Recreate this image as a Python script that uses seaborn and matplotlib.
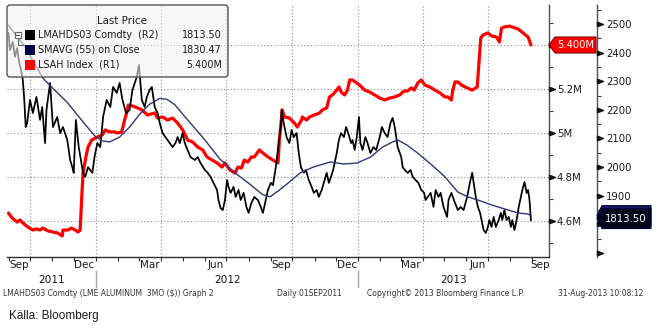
import matplotlib
matplotlib.use("Agg")
import matplotlib.pyplot as plt
import matplotlib.dates as mdates
from matplotlib.patches import Polygon, FancyBboxPatch, Rectangle
import pandas as pd
import seaborn as sns

sns.set_theme(style="white")
plt.rcParams["font.family"] = ["DejaVu Sans"]

# ---------------------------------------------------------------- data
# LME aluminium 3-month price (USD/t), right-hand scale R2
lme_dates = [
    "2011-09-01", "2011-09-03", "2011-09-07", "2011-09-10", "2011-09-13", "2011-09-16", "2011-09-18",
    "2011-09-21", "2011-09-23", "2011-09-25", "2011-09-27", "2011-10-01", "2011-10-05", "2011-10-10",
    "2011-10-15", "2011-10-18", "2011-10-22", "2011-10-24", "2011-10-29", "2011-11-02", "2011-11-08",
    "2011-11-12", "2011-11-16", "2011-11-22", "2011-11-26", "2011-11-29", "2011-12-01", "2011-12-04",
    "2011-12-08", "2011-12-11", "2011-12-14", "2011-12-17", "2011-12-21", "2011-12-27", "2011-12-30",
    "2012-01-03", "2012-01-07", "2012-01-11", "2012-01-16", "2012-01-21", "2012-01-25", "2012-01-30",
    "2012-02-03", "2012-02-07", "2012-02-12", "2012-02-17", "2012-02-21", "2012-02-27", "2012-03-01",
    "2012-03-05", "2012-03-09", "2012-03-12", "2012-03-16", "2012-03-19", "2012-03-23", "2012-03-27",
    "2012-03-30", "2012-04-03", "2012-04-07", "2012-04-13", "2012-04-17", "2012-04-21", "2012-04-24",
    "2012-04-27", "2012-05-01", "2012-05-04", "2012-05-08", "2012-05-12", "2012-05-18", "2012-05-22",
    "2012-05-26", "2012-06-01", "2012-06-05", "2012-06-09", "2012-06-13", "2012-06-18", "2012-06-20",
    "2012-06-23", "2012-06-26", "2012-06-29", "2012-07-02", "2012-07-04", "2012-07-07", "2012-07-11",
    "2012-07-14", "2012-07-18", "2012-07-21", "2012-07-25", "2012-07-29", "2012-08-01", "2012-08-05",
    "2012-08-09", "2012-08-14", "2012-08-18", "2012-08-21", "2012-08-24", "2012-08-28", "2012-09-01",
    "2012-09-04", "2012-09-08", "2012-09-12", "2012-09-15", "2012-09-16", "2012-09-19", "2012-09-23",
    "2012-09-27", "2012-09-30", "2012-10-03", "2012-10-07", "2012-10-10", "2012-10-13", "2012-10-17",
    "2012-10-20", "2012-10-24", "2012-10-28", "2012-10-31", "2012-11-04", "2012-11-07", "2012-11-11",
    "2012-11-15", "2012-11-18", "2012-11-21", "2012-11-24", "2012-11-27", "2012-11-30", "2012-12-02",
    "2012-12-05", "2012-12-08", "2012-12-12", "2012-12-15", "2012-12-18", "2012-12-22", "2012-12-24",
    "2012-12-27", "2012-12-30", "2013-01-02", "2013-01-04", "2013-01-07", "2013-01-11", "2013-01-14",
    "2013-01-18", "2013-01-22", "2013-01-26", "2013-01-31", "2013-02-03", "2013-02-07", "2013-02-11",
    "2013-02-15", "2013-02-18", "2013-02-21", "2013-02-25", "2013-03-02", "2013-03-04", "2013-03-07",
    "2013-03-11", "2013-03-15", "2013-03-18", "2013-03-22", "2013-03-26", "2013-03-30", "2013-04-03",
    "2013-04-05", "2013-04-08", "2013-04-12", "2013-04-16", "2013-04-19", "2013-04-23", "2013-04-26",
    "2013-04-30", "2013-05-05", "2013-05-07", "2013-05-11", "2013-05-16", "2013-05-20", "2013-05-24",
    "2013-05-28", "2013-06-02", "2013-06-06", "2013-06-09", "2013-06-12", "2013-06-14", "2013-06-17",
    "2013-06-20", "2013-06-23", "2013-06-25", "2013-06-28", "2013-07-01", "2013-07-03", "2013-07-06",
    "2013-07-09", "2013-07-12", "2013-07-16", "2013-07-19", "2013-07-21", "2013-07-24", "2013-07-27",
    "2013-07-30", "2013-08-02", "2013-08-04", "2013-08-07", "2013-08-10", "2013-08-13", "2013-08-16",
    "2013-08-18", "2013-08-21", "2013-08-24", "2013-08-26", "2013-08-28", "2013-08-29", "2013-08-30",
]
lme_close = [
    2469, 2409, 2437, 2385, 2416, 2364, 2346,
    2304, 2235, 2140, 2154, 2235, 2189, 2245,
    2165, 2210, 2084, 2200, 2294, 2140, 2175,
    2119, 2140, 2095, 2025, 2000, 1980, 2165,
    2070, 2025, 1980, 1966, 2000, 1980, 2035,
    2084, 2070, 2175, 2235, 2210, 2280, 2259,
    2294, 2235, 2189, 2200, 2270, 2315, 2357,
    2235, 2210, 2245, 2270, 2280, 2210, 2189,
    2154, 2119, 2105, 2084, 2070, 2084, 2105,
    2084, 2119, 2084, 2060, 2035, 2025, 2035,
    2014, 1990, 1980, 1966, 1945, 1920, 1885,
    1857, 1850, 1885, 1955, 1931, 1910, 1931,
    1896, 1920, 1885, 1910, 1861, 1840, 1875,
    1896, 1885, 1861, 1840, 1875, 1920, 1945,
    1937, 2000, 2084, 2140, 2200, 2154, 2105,
    2084, 2130, 2105, 2119, 2049, 2000, 1980,
    1990, 1955, 1931, 1910, 1920, 1896, 1920,
    1955, 1980, 1945, 1966, 1990, 2025, 2049,
    2095, 2119, 2105, 2140, 2119, 2084, 2095,
    2060, 2105, 2175, 2084, 2060, 2105, 2084,
    2049, 2070, 2060, 2105, 2140, 2119, 2105,
    2154, 2172, 2140, 2070, 2035, 2000, 1990,
    1980, 1990, 1966, 1955, 1945, 1920, 1910,
    1885, 1896, 1910, 1861, 1920, 1896, 1910,
    1861, 1826, 1885, 1910, 1875, 1850, 1861,
    1850, 1896, 1948, 1980, 1931, 1896, 1861,
    1840, 1805, 1780, 1770, 1791, 1815, 1791,
    1826, 1791, 1815, 1840, 1815, 1850, 1815,
    1826, 1791, 1815, 1780, 1815, 1861, 1896,
    1920, 1948, 1910, 1920, 1885, 1850, 1813.50,
]

# 55-day simple moving average of the close, same scale
smavg_dates = [
    "2011-09-01", "2011-09-24", "2011-10-19", "2011-10-29", "2011-11-22", "2011-12-14", "2011-12-30",
    "2012-01-09", "2012-01-20", "2012-02-03", "2012-02-17", "2012-03-02", "2012-03-16", "2012-03-30",
    "2012-04-09", "2012-04-20", "2012-05-08", "2012-06-01", "2012-06-22", "2012-07-13", "2012-08-03",
    "2012-08-20", "2012-08-31", "2012-09-13", "2012-09-27", "2012-10-12", "2012-10-30", "2012-11-23",
    "2012-12-11", "2012-12-30", "2013-01-18", "2013-02-04", "2013-02-18", "2013-02-25", "2013-03-10",
    "2013-03-25", "2013-04-14", "2013-05-02", "2013-05-20", "2013-06-03", "2013-06-17", "2013-07-06",
    "2013-07-24", "2013-08-12", "2013-08-26", "2013-08-30",
]
smavg_close = [
    2496, 2420, 2311, 2285, 2226, 2158, 2110,
    2092, 2088, 2105, 2140, 2185, 2220, 2240,
    2237, 2218, 2165, 2095, 2028, 1980, 1940,
    1905, 1896, 1920, 1948, 1980, 2000, 2018,
    2011, 2014, 2035, 2070, 2088, 2095, 2077,
    2049, 2007, 1966, 1913, 1896, 1885, 1868,
    1854, 1840, 1836, 1830.47,
]

# LME aluminium stocks (million tonnes), left-hand scale R1
lsah_dates = [
    "2011-09-01", "2011-09-06", "2011-09-13", "2011-09-17", "2011-09-21", "2011-09-28", "2011-10-05",
    "2011-10-10", "2011-10-15", "2011-10-19", "2011-10-26", "2011-11-02", "2011-11-09", "2011-11-15",
    "2011-11-16", "2011-11-23", "2011-11-28", "2011-12-03", "2011-12-07", "2011-12-10", "2011-12-12",
    "2011-12-14", "2011-12-18", "2011-12-21", "2011-12-26", "2012-01-03", "2012-01-10", "2012-01-14",
    "2012-01-20", "2012-01-27", "2012-01-31", "2012-02-06", "2012-02-10", "2012-02-14", "2012-02-15",
    "2012-02-21", "2012-02-28", "2012-03-05", "2012-03-13", "2012-03-23", "2012-03-27", "2012-04-03",
    "2012-04-10", "2012-04-17", "2012-04-24", "2012-05-01", "2012-05-08", "2012-05-15", "2012-05-22",
    "2012-05-29", "2012-06-04", "2012-06-11", "2012-06-18", "2012-06-25", "2012-06-29", "2012-07-06",
    "2012-07-13", "2012-07-17", "2012-07-22", "2012-07-26", "2012-07-31", "2012-08-05", "2012-08-09",
    "2012-08-16", "2012-08-21", "2012-08-28", "2012-09-04", "2012-09-11", "2012-09-13", "2012-09-16",
    "2012-09-17", "2012-09-20", "2012-09-27", "2012-10-04", "2012-10-08", "2012-10-14", "2012-10-15",
    "2012-10-21", "2012-10-25", "2012-11-01", "2012-11-08", "2012-11-12", "2012-11-18", "2012-11-22",
    "2012-11-26", "2012-12-02", "2012-12-05", "2012-12-09", "2012-12-13", "2012-12-17", "2012-12-20",
    "2012-12-24", "2012-12-30", "2013-01-03", "2013-01-10", "2013-01-17", "2013-01-24", "2013-01-31",
    "2013-02-07", "2013-02-14", "2013-02-21", "2013-02-28", "2013-03-04", "2013-03-07", "2013-03-11",
    "2013-03-16", "2013-03-20", "2013-03-25", "2013-03-30", "2013-04-04", "2013-04-11", "2013-04-18",
    "2013-04-25", "2013-05-02", "2013-05-06", "2013-05-11", "2013-05-13", "2013-05-16", "2013-05-20",
    "2013-05-25", "2013-06-02", "2013-06-09", "2013-06-16", "2013-06-18", "2013-06-21", "2013-06-24",
    "2013-07-01", "2013-07-06", "2013-07-13", "2013-07-17", "2013-07-20", "2013-07-24", "2013-07-31",
    "2013-08-08", "2013-08-12", "2013-08-19", "2013-08-26", "2013-08-30",
]
lsah_mt = [
    4.636, 4.614, 4.595, 4.605, 4.591, 4.573, 4.559,
    4.564, 4.559, 4.568, 4.555, 4.550, 4.545, 4.532,
    4.559, 4.559, 4.568, 4.559, 4.550, 4.559, 4.695,
    4.818, 4.891, 4.936, 4.968, 4.982, 4.991, 5.014,
    5.005, 5.005, 5.000, 5.005, 5.059, 5.105, 5.127,
    5.123, 5.114, 5.105, 5.082, 5.091, 5.068, 5.073,
    5.059, 5.068, 5.045, 5.014, 4.968, 4.959, 4.936,
    4.923, 4.891, 4.877, 4.864, 4.845, 4.864, 4.832,
    4.818, 4.845, 4.841, 4.877, 4.868, 4.891, 4.891,
    4.923, 4.909, 4.891, 4.877, 4.864, 4.968, 5.073,
    5.105, 5.073, 5.068, 5.045, 5.027, 5.059, 5.073,
    5.059, 5.073, 5.082, 5.091, 5.105, 5.114, 5.164,
    5.173, 5.195, 5.209, 5.182, 5.173, 5.195, 5.241,
    5.241, 5.227, 5.218, 5.195, 5.186, 5.173, 5.159,
    5.150, 5.159, 5.164, 5.173, 5.186, 5.191, 5.191,
    5.205, 5.195, 5.227, 5.241, 5.218, 5.209, 5.195,
    5.182, 5.164, 5.164, 5.150, 5.195, 5.232, 5.232,
    5.218, 5.205, 5.195, 5.209, 5.300, 5.432, 5.445,
    5.455, 5.441, 5.436, 5.414, 5.477, 5.482, 5.486,
    5.477, 5.473, 5.455, 5.436, 5.400,
]

r1_major = [4.6, 4.8, 5.0, 5.2, 5.4]
r1_labels = ["4.6M", "4.8M", "5M", "5.2M", ""]
r1_minor = [4.5, 4.7, 4.9, 5.1, 5.3, 5.5]
r2_major = [1700, 1800, 1900, 2000, 2100, 2200, 2300, 2400, 2500]
r2_labels = ["", "", "1900", "2000", "2100", "2200", "2300", "2400", "2500"]
r2_minor = [1750, 1850, 1950, 2050, 2150, 2250, 2350, 2450, 2550]

month_labels = ["Sep", "Dec", "Mar", "Jun", "Sep", "Dec", "Mar", "Jun", "Sep"]
month_label_dates = ["2011-09-16", "2011-12-16", "2012-03-16", "2012-06-16", "2012-09-16",
                     "2012-12-16", "2013-03-16", "2013-06-16", "2013-09-12"]
year_labels = ["2011", "2012", "2013"]
year_starts = ["2012-01-01", "2013-01-01"]

legend_names = ["LMAHDS03 Comdty  (R2)", "SMAVG (55) on Close", "LSAH Index  (R1)"]

# ---------------------------------------------------------------- layout
W, H = 658, 330
L, R, T, B = 7, 549, 5, 257
fig = plt.figure(figsize=(W / 100, H / 100), dpi=100)
fig.patch.set_facecolor("white")
ax1 = fig.add_axes([L / W, 1 - B / H, (R - L) / W, (B - T) / H])
ax1.set_facecolor("none")
ax2 = ax1.twinx()

RED, BLACK, NAVY = "#ff0000", "#000000", "#33357a"
GRID = dict(linestyle=(0, (1, 2)), linewidth=0.8, color="#8c8c8c")

lsah = pd.DataFrame({"date": pd.to_datetime(lsah_dates), "stock": lsah_mt})
lme = pd.DataFrame({"date": pd.to_datetime(lme_dates), "close": lme_close})
sma = pd.DataFrame({"date": pd.to_datetime(smavg_dates), "close": smavg_close})

sns.lineplot(data=lsah, x="date", y="stock", ax=ax1, color=RED, linewidth=2.3,
             estimator=None, solid_joinstyle="round")
sns.lineplot(data=lme, x="date", y="close", ax=ax2, color=BLACK, linewidth=1.25,
             estimator=None)
sns.lineplot(data=sma, x="date", y="close", ax=ax2, color=NAVY, linewidth=1.0,
             estimator=None)

x_left = mdates.date2num(pd.Timestamp("2011-09-01")) - 2.1
x_right = mdates.date2num(pd.Timestamp("2013-09-01")) + 23.2
ax1.set_xlim(x_left, x_right)
ax1.set_ylim(4.4364, 5.5818)
ax2.set_ylim(1686.0, 2566.4)
for a in (ax1, ax2):
    a.set_xlabel("")
    a.set_ylabel("")

# x axis: month ticks, quarter grid
ax1.xaxis.set_major_locator(mdates.MonthLocator(bymonth=[1, 4, 7, 10]))
ax1.xaxis.set_minor_locator(mdates.MonthLocator())
ax1.xaxis.set_major_formatter(plt.NullFormatter())
ax1.xaxis.set_minor_formatter(plt.NullFormatter())
ax1.tick_params(axis="x", which="both", direction="out", length=3.2, width=0.8,
                color="#303030", bottom=True, labelbottom=False)
ax1.grid(True, which="major", axis="both", **GRID)

# R1 axis
ax1.yaxis.set_ticks_position("right")
ax1.set_yticks(r1_major)
ax1.set_yticklabels(r1_labels)
ax1.set_yticks(r1_minor, minor=True)
ax1.tick_params(axis="y", which="major", length=0, pad=5.8, labelsize=7.3,
                labelcolor="#1a1a1a", right=True, left=False)
ax1.tick_params(axis="y", which="minor", length=3, width=0.8, color="#404040",
                direction="out", right=True, left=False)

# R2 axis
r2_pos = (597 - L) / (R - L)
ax2.spines["right"].set_position(("axes", r2_pos))
ax2.set_yticks(r2_major)
ax2.set_yticklabels(r2_labels)
ax2.set_yticks(r2_minor, minor=True)
ax2.tick_params(axis="y", which="major", length=0, pad=6.5, labelsize=7.3,
                labelcolor="#1a1a1a")
ax2.tick_params(axis="y", which="minor", length=3, width=0.8, color="#404040",
                direction="out")

for s in ("left", "top"):
    ax1.spines[s].set_visible(False)
for s in ("left", "top", "bottom"):
    ax2.spines[s].set_visible(False)
ax1.spines["bottom"].set_color("#303030")
ax1.spines["bottom"].set_linewidth(1.0)
for a in (ax1, ax2):
    a.spines["right"].set_color("#505050")
    a.spines["right"].set_linewidth(1.0)

# arrow-shaped major tick marks
tri = [(0, -0.38), (1, 0), (0, 0.38), (0, -0.38)]
ax1.plot([1.0] * len(r1_major), r1_major, transform=ax1.get_yaxis_transform(),
         marker=tri, ms=8.5, color="#111111", ls="none", clip_on=False, zorder=5)
ax2.plot([r2_pos] * len(r2_major), r2_major, transform=ax2.get_yaxis_transform(),
         marker=tri, ms=8.5, color="#111111", ls="none", clip_on=False, zorder=5)

# month and year labels under the axis
xt = ax1.get_xaxis_transform()
for lab, d in zip(month_labels, month_label_dates):
    ax1.text(mdates.date2num(pd.Timestamp(d)), -0.032, lab, transform=xt,
             ha="center", va="center", fontsize=7.5, color="#1a1a1a")
ys = [mdates.date2num(pd.Timestamp(d)) for d in year_starts]
bounds = [x_left] + ys + [x_right]
for i, lab in enumerate(year_labels):
    ax1.text((bounds[i] + bounds[i + 1]) / 2, -0.092, lab, transform=xt,
             ha="center", va="center", fontsize=7.6, color="#1a1a1a")
for x in ys:
    ax1.plot([x, x], [-0.056, -0.119], transform=xt, color="#a8a8a8", lw=1.0,
             clip_on=False)

# ---------------------------------------------------------------- overlay
ov = fig.add_axes([0, 0, 1, 1], zorder=10)
ov.set_xlim(0, W)
ov.set_ylim(H, 0)
ov.axis("off")


def pix_y(ax, v):
    return H - ax.transData.transform((x_right, v))[1]


# legend box
ov.add_patch(FancyBboxPatch((L, T), 221, 72, boxstyle="round,pad=0,rounding_size=3",
                            fc=(0.95, 0.95, 0.95, 0.6), ec="#555555", lw=1.0))
ov.text(122, 20.5, "Last Price", ha="center", va="center", fontsize=7.4, color="#1a1a1a")
row_y = [34.5, 50, 64.5]
row_col = [BLACK, "#000040", RED]
row_val = [f"{lme_close[-1]:.2f}", f"{smavg_close[-1]:.2f}", f"{lsah_mt[-1]:.3f}M"]
for y, c, name, val in zip(row_y, row_col, legend_names, row_val):
    ov.add_patch(Rectangle((25, y - 5), 10, 10, fc=c, ec="none"))
    ov.text(38, y, name, ha="left", va="center", fontsize=6.9, color="#1a1a1a")
    ov.text(222, y, val, ha="right", va="center", fontsize=6.9, color="#1a1a1a")
ov.add_patch(Rectangle((14.5, 31.5), 6, 6, fc="white", ec="#666666", lw=0.8))
ov.plot([16, 19], [34.5, 34.5], color="#444444", lw=0.8)
ov.plot([17.5, 17.5, 23], [37.5, 45, 45], color="#666666", lw=0.8)

# last-value tags
yr = pix_y(ax1, lsah_mt[-1])
ov.add_patch(Polygon([(R, yr), (R + 6, yr - 8), (596, yr - 8), (596, yr + 8), (R + 6, yr + 8)],
                     closed=True, fc=RED, ec="#7a0000", lw=0.8))
ov.text(575.5, yr + 0.5, f"{lsah_mt[-1]:.3f}M", ha="center", va="center",
        fontsize=7.2, color="white")

ysm = pix_y(ax2, smavg_close[-1])
ov.add_patch(Polygon([(597, ysm), (602, ysm - 10), (651, ysm - 10), (651, ysm + 10), (602, ysm + 10)],
                     closed=True, fc="#1c1c5e", ec="#000040", lw=0.8))
yb = pix_y(ax2, lme_close[-1]) - 2
ov.add_patch(Polygon([(597, yb), (602, yb - 10), (651, yb - 10), (651, yb + 10), (602, yb + 10)],
                     closed=True, fc="#06061a", ec="#000040", lw=0.8))
ov.text(626, yb + 0.5, f"{lme_close[-1]:.2f}", ha="center", va="center",
        fontsize=7.3, color="white")

# footer
foot = dict(fontsize=5.5, color="#333333", va="center", ha="left")
ov.text(3, 294, "LMAHDS03 Comdty (LME ALUMINUM  3MO ($)) Graph 2", **foot)
ov.text(277, 294, "Daily 01SEP2011", **foot)
ov.text(367, 294, "Copyright\u00a9 2013 Bloomberg Finance L.P.", **foot)
ov.text(558, 294, "31-Aug-2013 10:08:12", **foot)
ov.text(9, 316, "Källa: Bloomberg", ha="left", va="center", fontsize=8.5,
        color="#1a1a1a", family=["Liberation Sans", "DejaVu Sans"])

fig.savefig("out.png", dpi=100)
